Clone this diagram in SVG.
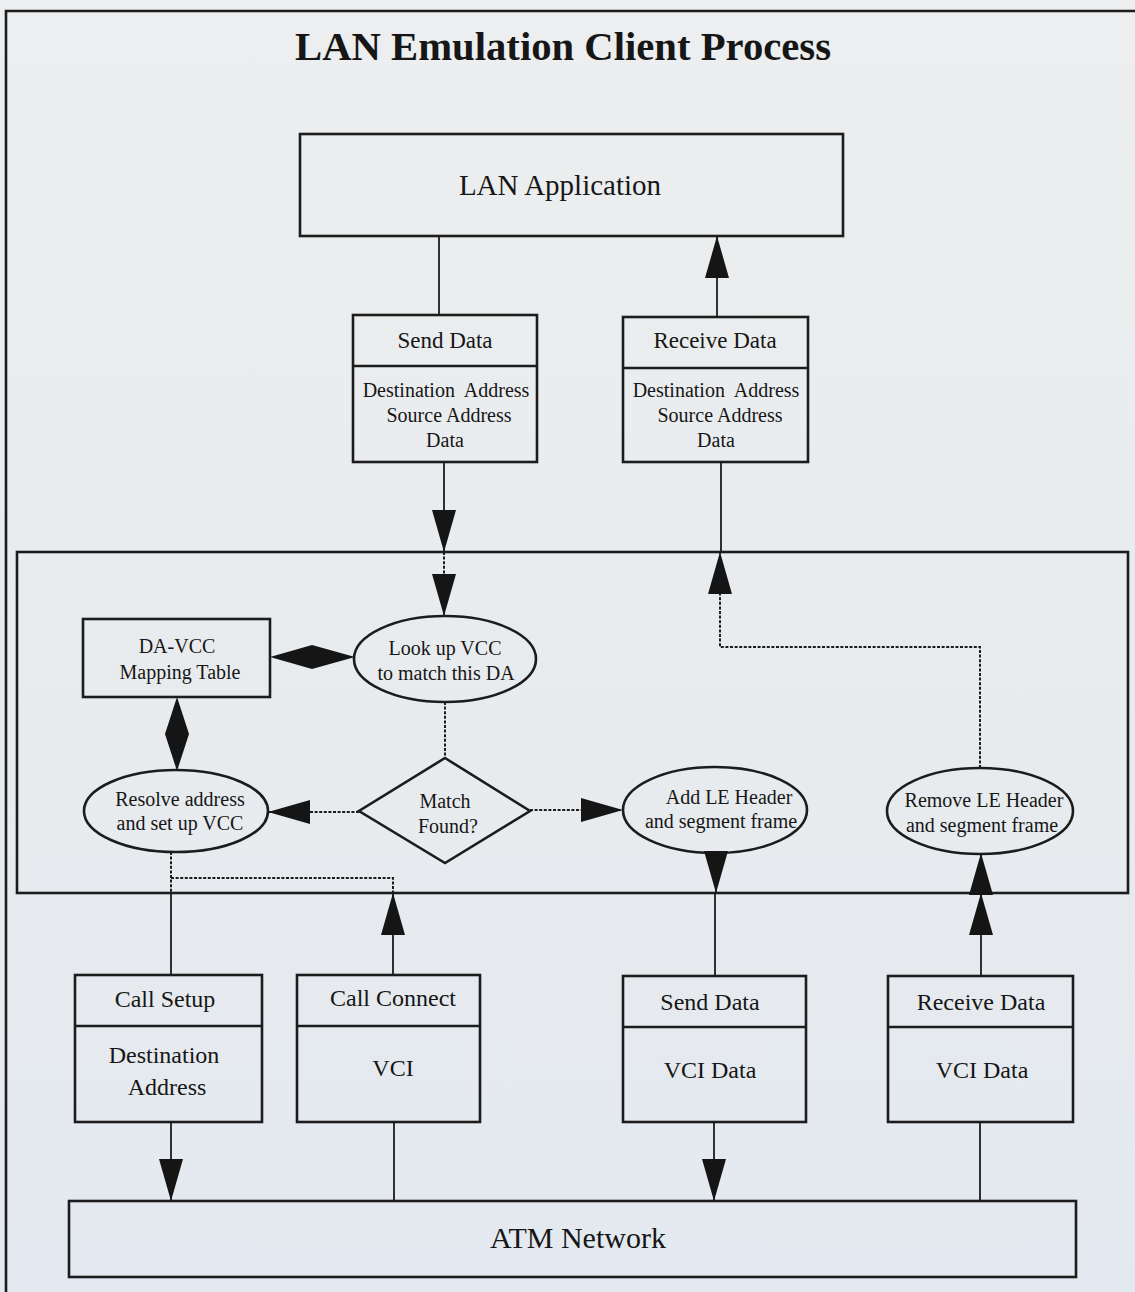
<svg xmlns="http://www.w3.org/2000/svg" width="1135" height="1292" viewBox="0 0 1135 1292">
  <defs>
    <linearGradient id="paper" x1="0" y1="0" x2="0" y2="1">
      <stop offset="0" stop-color="#eceeef"/>
      <stop offset="0.6" stop-color="#e8ebee"/>
      <stop offset="1" stop-color="#e3e9f0"/>
    </linearGradient>
    <!-- solid triangular arrowhead, tip at the path end -->
    <marker id="tri" viewBox="0 0 42 24" refX="42" refY="12" markerWidth="42" markerHeight="24" markerUnits="userSpaceOnUse" orient="auto">
      <path d="M0,0 L42,12 L0,24 Z" fill="#151515"/>
    </marker>
    <style>
      .frame { fill: none; stroke: #1c1c1c; stroke-width: 2.6; }
      .box { fill: none; stroke: #1c1c1c; stroke-width: 2.6; }
      .wire { fill: none; stroke: #1c1c1c; stroke-width: 1.8; }
      .dot { fill: none; stroke: #1c1c1c; stroke-width: 2; stroke-dasharray: 3 1.6; }
      .arr { marker-end: url(#tri); }
      .head { fill: #151515; stroke: none; }
      text { font-family: "Liberation Serif", "Times New Roman", serif; fill: #161616; text-anchor: middle; }
      .title { font-size: 40px; font-weight: bold; }
      .big { font-size: 29px; }
      .hd { font-size: 23px; }
      .sm { font-size: 20px; }
      .md { font-size: 24px; }
    </style>
  </defs>

  <rect x="0" y="0" width="1135" height="1292" fill="url(#paper)"/>

  <!-- page border -->
  <path class="frame" d="M6,1292 V11 H1135"/>

  <text class="title" x="563" y="60" textLength="536" lengthAdjust="spacingAndGlyphs">LAN Emulation Client Process</text>

  <!-- client process enclosure -->
  <rect id="client-frame" class="frame" x="17" y="552" width="1111" height="341"/>

  <g id="lan-application">
    <rect class="box" x="300" y="134" width="543" height="102"/>
    <text class="big" x="560" y="195">LAN Application</text>
  </g>

  <g id="send-data-top">
    <rect class="box" x="353" y="315" width="184" height="147"/>
    <line class="box" x1="353" y1="366" x2="537" y2="366"/>
    <text class="hd" x="445" y="348">Send Data</text>
    <text class="sm" x="446" y="397" xml:space="preserve">Destination  Address</text>
    <text class="sm" x="449" y="422">Source Address</text>
    <text class="sm" x="445" y="447">Data</text>
  </g>

  <g id="receive-data-top">
    <rect class="box" x="623" y="317" width="185" height="145"/>
    <line class="box" x1="623" y1="368" x2="808" y2="368"/>
    <text class="hd" x="715" y="348">Receive Data</text>
    <text class="sm" x="716" y="397" xml:space="preserve">Destination  Address</text>
    <text class="sm" x="720" y="422">Source Address</text>
    <text class="sm" x="716" y="447">Data</text>
  </g>

  <g id="mapping-table">
    <rect class="box" x="83" y="619" width="187" height="78"/>
    <text class="sm" x="177" y="653">DA-VCC</text>
    <text class="sm" x="180" y="679">Mapping Table</text>
  </g>

  <g id="lookup-vcc">
    <ellipse class="box" cx="445" cy="659" rx="91" ry="43"/>
    <text class="sm" x="445" y="655">Look up VCC</text>
    <text class="sm" x="446" y="680">to match this DA</text>
  </g>

  <g id="resolve-address">
    <ellipse class="box" cx="176" cy="811" rx="92" ry="41"/>
    <text class="sm" x="180" y="806">Resolve address</text>
    <text class="sm" x="180" y="830">and set up VCC</text>
  </g>

  <g id="match-found">
    <polygon class="box" points="445,758 530,811 445,863 359,811"/>
    <text class="sm" x="445" y="808">Match</text>
    <text class="sm" x="448" y="833">Found?</text>
  </g>

  <g id="add-le-header">
    <ellipse class="box" cx="715" cy="810" rx="92" ry="43"/>
    <text class="sm" x="729" y="804">Add LE Header</text>
    <text class="sm" x="721" y="828">and segment frame</text>
  </g>

  <g id="remove-le-header">
    <ellipse class="box" cx="980" cy="811" rx="93" ry="43"/>
    <text class="sm" x="984" y="807">Remove LE Header</text>
    <text class="sm" x="982" y="832">and segment frame</text>
  </g>

  <g id="call-setup">
    <rect class="box" x="75" y="975" width="187" height="147"/>
    <line class="box" x1="75" y1="1026" x2="262" y2="1026"/>
    <text class="md" x="165" y="1007">Call Setup</text>
    <text class="md" x="164" y="1063">Destination</text>
    <text class="md" x="167" y="1095">Address</text>
  </g>

  <g id="call-connect">
    <rect class="box" x="297" y="975" width="183" height="147"/>
    <line class="box" x1="297" y1="1026" x2="480" y2="1026"/>
    <text class="md" x="393" y="1006">Call Connect</text>
    <text class="md" x="393" y="1076">VCI</text>
  </g>

  <g id="send-data-bottom">
    <rect class="box" x="623" y="976" width="183" height="146"/>
    <line class="box" x1="623" y1="1027" x2="806" y2="1027"/>
    <text class="md" x="710" y="1010">Send Data</text>
    <text class="md" x="710" y="1078">VCI Data</text>
  </g>

  <g id="receive-data-bottom">
    <rect class="box" x="888" y="976" width="185" height="146"/>
    <line class="box" x1="888" y1="1027" x2="1073" y2="1027"/>
    <text class="md" x="981" y="1010">Receive Data</text>
    <text class="md" x="982" y="1078">VCI Data</text>
  </g>

  <g id="atm-network">
    <rect class="box" x="69" y="1201" width="1007" height="76"/>
    <text style="font-size:30px" x="578" y="1248">ATM Network</text>
  </g>

  <g id="connectors">
    <!-- outbound data path -->
    <line class="wire" x1="439" y1="236" x2="439" y2="315"/>
    <line class="wire arr" x1="444" y1="462" x2="444" y2="552"/>
    <line class="dot arr" x1="444" y1="552" x2="444" y2="616"/>
    <!-- two-way links to the mapping table -->
    <polygon class="head" points="270,657 312,645 355,657 312,669"/>
    <polygon class="head" points="177,697 189,734 177,771 165,734"/>
    <line class="dot" x1="445" y1="702" x2="445" y2="758"/>
    <line class="dot arr" x1="359" y1="812" x2="268" y2="812"/>
    <line class="dot arr" x1="530" y1="810" x2="623" y2="810"/>
    <line class="wire arr" x1="716" y1="853" x2="716" y2="893"/>
    <line class="wire" x1="715" y1="893" x2="715" y2="976"/>
    <line class="wire arr" x1="714" y1="1122" x2="714" y2="1201"/>

    <!-- inbound data path -->
    <line class="wire" x1="980" y1="1201" x2="980" y2="1122"/>
    <line class="wire arr" x1="981" y1="976" x2="981" y2="893"/>
    <line class="wire arr" x1="981" y1="893" x2="981" y2="853"/>
    <polyline class="dot arr" points="980,768 980,647 720,647 720,552"/>
    <line class="wire" x1="721" y1="552" x2="721" y2="462"/>
    <line class="wire arr" x1="717" y1="317" x2="717" y2="236"/>

    <!-- call setup / connect signalling -->
    <line class="dot" x1="171" y1="852" x2="171" y2="893"/>
    <polyline class="dot" points="171,878 393,878 393,893"/>
    <line class="wire" x1="171" y1="893" x2="171" y2="975"/>
    <line class="wire arr" x1="171" y1="1122" x2="171" y2="1201"/>
    <line class="wire" x1="394" y1="1201" x2="394" y2="1122"/>
    <line class="wire arr" x1="393" y1="975" x2="393" y2="893"/>
  </g>
</svg>
